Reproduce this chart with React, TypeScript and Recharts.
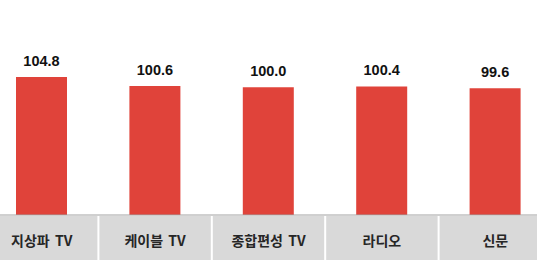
import React from "react";
import { BarChart, Bar, XAxis, YAxis, LabelList } from "recharts";

const categories = ["지상파 TV", "케이블 TV", "종합편성 TV", "라디오", "신문"];
const values = [104.8, 100.6, 100.0, 100.4, 99.6];

const data = categories.map((name, i) => ({ name, value: values[i] }));

const CHART_W = 567;
const BAND = CHART_W / categories.length;

const CategoryTick = (props: any) => {
  const { x, y, payload } = props;
  const half = BAND / 2 - 1;
  return (
    <g>
      <rect x={x - half} y={y + 1} width={half * 2} height={44} fill="#d9d9d9" />
      <text
        x={x}
        y={y + 25}
        textAnchor="middle"
        dominantBaseline="central"
        fontSize={14}
        fontWeight={700}
        fill="#262626"
        fontFamily="'Noto Sans CJK KR', 'Noto Sans', sans-serif"
        style={{ wordSpacing: 2 }}
      >
        {payload.value}
      </text>
    </g>
  );
};

export default function App() {
  return (
    <div
      style={{
        position: "fixed",
        left: 0,
        top: 0,
        width: 537,
        height: 264,
        overflow: "hidden",
        background: "#ffffff",
      }}
    >
      <div style={{ position: "absolute", left: -15, top: 0 }}>
        <BarChart
          width={CHART_W}
          height={264}
          data={data}
          margin={{ top: 66, right: 0, bottom: 0, left: 0 }}
        >
          <XAxis
            dataKey="name"
            height={49}
            tickLine={false}
            tickSize={0}
            tickMargin={0}
            axisLine={{ stroke: "#a0a0a0", strokeWidth: 1 }}
            tick={<CategoryTick />}
            interval={0}
          />
          <YAxis hide domain={[40, 110]} />
          <Bar dataKey="value" fill="#e0433a" barSize={51} isAnimationActive={false}>
            <LabelList
              dataKey="value"
              position="top"
              offset={11}
              formatter={(v: any) => Number(v).toFixed(1)}
              style={{
                fontSize: 14.5,
                fontWeight: 700,
                fill: "#111111",
                fontFamily: "'Liberation Sans', Arial, sans-serif",
              }}
            />
          </Bar>
        </BarChart>
      </div>
    </div>
  );
}
